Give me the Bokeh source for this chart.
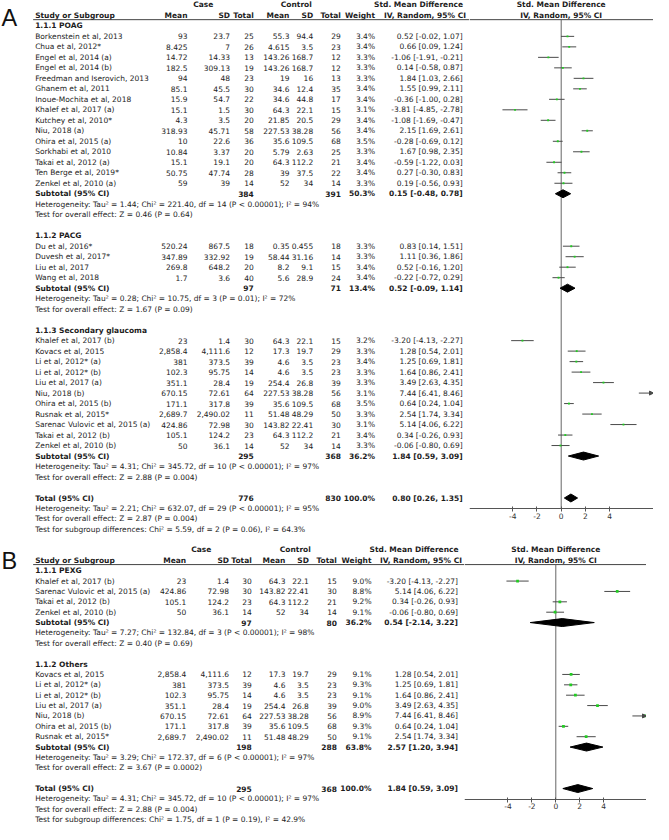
import numpy as np
from bokeh.plotting import figure
from bokeh.layouts import column, row
from bokeh.models import Range1d, FixedTicker, ColumnDataSource, Arrow, NormalHead
from bokeh.embed import file_html
from bokeh.resources import INLINE
from bokeh.core.properties import value

# ======================= DATA : panel A =======================
poag_study = ["Borkenstein et al, 2013", "Chua et al, 2012*", "Engel et al, 2014 (a)", "Engel et al, 2014 (b)",
              "Freedman and Iserovich, 2013", "Ghanem et al, 2011", "Inoue-Mochita et al, 2018",
              "Khalef et al, 2017 (a)", "Kutchey et al, 2010*", "Niu, 2018 (a)", "Ohira et al, 2015 (a)",
              "Sorkhabi et al, 2010", "Takai et al, 2012 (a)", "Ten Berge et al, 2019*", "Zenkel et al, 2010 (a)"]
poag_case_mean = [93, 8.425, 14.72, 182.5, 94, 85.1, 15.9, 15.1, 4.3, 318.93, 10, 10.84, 15.1, 50.75, 59]
poag_case_sd = [23.7, 7, 14.33, 309.13, 48, 45.5, 54.7, 1.5, 3.5, 45.71, 22.6, 3.37, 19.1, 47.74, 39]
poag_case_n = [25, 26, 13, 19, 23, 30, 22, 30, 20, 58, 36, 20, 20, 28, 14]
poag_ctrl_mean = [55.3, 4.615, 143.26, 143.26, 19, 34.6, 34.6, 64.3, 21.85, 227.53, 35.6, 5.79, 64.3, 39, 52]
poag_ctrl_sd = [94.4, 3.5, 168.7, 168.7, 16, 12.4, 44.8, 22.1, 20.5, 38.28, 109.5, 2.63, 112.2, 37.5, 34]
poag_ctrl_n = [29, 23, 12, 12, 13, 35, 17, 15, 29, 56, 68, 25, 21, 22, 14]
poag_weight = [3.4, 3.4, 3.3, 3.3, 3.3, 3.4, 3.4, 3.1, 3.4, 3.4, 3.5, 3.3, 3.4, 3.4, 3.3]
poag_smd = [0.52, 0.66, -1.06, 0.14, 1.84, 1.55, -0.36, -3.81, -1.08, 2.15, -0.28, 1.67, -0.59, 0.27, 0.19]
poag_lo = [-0.02, 0.09, -1.91, -0.58, 1.03, 0.99, -1.00, -4.85, -1.69, 1.69, -0.69, 0.98, -1.22, -0.30, -0.56]
poag_hi = [1.07, 1.24, -0.21, 0.87, 2.66, 2.11, 0.28, -2.78, -0.47, 2.61, 0.12, 2.35, 0.03, 0.83, 0.93]

pacg_study = ["Du et al, 2016*", "Duvesh et al, 2017*", "Liu et al, 2017", "Wang et al, 2018"]
pacg_case_mean = [520.24, 347.89, 269.8, 1.7]
pacg_case_sd = [867.5, 332.92, 648.2, 3.6]
pacg_case_n = [18, 19, 20, 40]
pacg_ctrl_mean = [0.35, 58.44, 8.2, 5.6]
pacg_ctrl_sd = [0.455, 31.16, 9.1, 28.9]
pacg_ctrl_n = [18, 14, 15, 24]
pacg_weight = [3.3, 3.3, 3.4, 3.4]
pacg_smd = [0.83, 1.11, 0.52, -0.22]
pacg_lo = [0.14, 0.36, -0.16, -0.72]
pacg_hi = [1.51, 1.86, 1.20, 0.29]

sec_study = ["Khalef et al, 2017 (b)", "Kovacs et al, 2015", "Li et al, 2012* (a)", "Li et al, 2012* (b)",
             "Liu et al, 2017 (a)", "Niu, 2018 (b)", "Ohira et al, 2015 (b)", "Rusnak et al, 2015*",
             "Sarenac Vulovic et al, 2015 (a)", "Takai et al, 2012 (b)", "Zenkel et al, 2010 (b)"]
sec_case_mean = [23, 2858.4, 381, 102.3, 351.1, 670.15, 171.1, 2689.7, 424.86, 105.1, 50]
sec_case_sd = [1.4, 4111.6, 373.5, 95.75, 28.4, 72.61, 317.8, 2490.02, 72.98, 124.2, 36.1]
sec_case_n = [30, 12, 39, 14, 19, 64, 39, 11, 30, 23, 14]
sec_ctrl_mean = [64.3, 17.3, 4.6, 4.6, 254.4, 227.53, 35.6, 51.48, 143.82, 64.3, 52]
sec_ctrl_sd = [22.1, 19.7, 3.5, 3.5, 26.8, 38.28, 109.5, 48.29, 22.41, 112.2, 34]
sec_ctrl_n = [15, 29, 23, 23, 39, 56, 68, 50, 30, 21, 14]
sec_weight = [3.2, 3.3, 3.4, 3.3, 3.3, 3.1, 3.5, 3.3, 3.1, 3.4, 3.3]
sec_smd = [-3.20, 1.28, 1.25, 1.64, 3.49, 7.44, 0.64, 2.54, 5.14, 0.34, -0.06]
sec_lo = [-4.13, 0.54, 0.69, 0.86, 2.63, 6.41, 0.24, 1.74, 4.06, -0.26, -0.80]
sec_hi = [-2.27, 2.01, 1.81, 2.41, 4.35, 8.46, 1.04, 3.34, 6.22, 0.93, 0.69]

A_group_titles = ["1.1.1 POAG", "1.1.2 PACG", "1.1.3 Secondary glaucoma"]
A_sub_case_n = [384, 97, 295]
A_sub_ctrl_n = [391, 71, 368]
A_sub_weight = [50.3, 13.4, 36.2]
A_sub_smd = [0.15, 0.52, 1.84]
A_sub_lo = [-0.48, -0.09, 0.59]
A_sub_hi = [0.78, 1.14, 3.09]
A_sub_het = ["Heterogeneity: Tau\u00b2 = 1.44; Chi\u00b2 = 221.40, df = 14 (P < 0.00001); I\u00b2 = 94%",
             "Heterogeneity: Tau\u00b2 = 0.28; Chi\u00b2 = 10.75, df = 3 (P = 0.01); I\u00b2 = 72%",
             "Heterogeneity: Tau\u00b2 = 4.31; Chi\u00b2 = 345.72, df = 10 (P < 0.00001); I\u00b2 = 97%"]
A_sub_test = ["Test for overall effect: Z = 0.46 (P = 0.64)",
              "Test for overall effect: Z = 1.67 (P = 0.09)",
              "Test for overall effect: Z = 2.88 (P = 0.004)"]
A_total = [776, 830, 100.0, 0.80, 0.26, 1.35]
A_total_lines = ["Heterogeneity: Tau\u00b2 = 2.21; Chi\u00b2 = 632.07, df = 29 (P < 0.00001); I\u00b2 = 95%",
                 "Test for overall effect: Z = 2.87 (P = 0.004)",
                 "Test for subgroup differences: Chi\u00b2 = 5.59, df = 2 (P = 0.06), I\u00b2 = 64.3%"]

# ======================= DATA : panel B =======================
pexg_study = ["Khalef et al, 2017 (b)", "Sarenac Vulovic et al, 2015 (a)", "Takai et al, 2012 (b)",
              "Zenkel et al, 2010 (b)"]
pexg_case_mean = [23, 424.86, 105.1, 50]
pexg_case_sd = [1.4, 72.98, 124.2, 36.1]
pexg_case_n = [30, 30, 23, 14]
pexg_ctrl_mean = [64.3, 143.82, 64.3, 52]
pexg_ctrl_sd = [22.1, 22.41, 112.2, 34]
pexg_ctrl_n = [15, 30, 21, 14]
pexg_weight = [9.0, 8.8, 9.2, 9.1]
pexg_smd = [-3.20, 5.14, 0.34, -0.06]
pexg_lo = [-4.13, 4.06, -0.26, -0.80]
pexg_hi = [-2.27, 6.22, 0.93, 0.69]

oth_study = ["Kovacs et al, 2015", "Li et al, 2012* (a)", "Li et al, 2012* (b)", "Liu et al, 2017 (a)",
             "Niu, 2018 (b)", "Ohira et al, 2015 (b)", "Rusnak et al, 2015*"]
oth_case_mean = [2858.4, 381, 102.3, 351.1, 670.15, 171.1, 2689.7]
oth_case_sd = [4111.6, 373.5, 95.75, 28.4, 72.61, 317.8, 2490.02]
oth_case_n = [12, 39, 14, 19, 64, 39, 11]
oth_ctrl_mean = [17.3, 4.6, 4.6, 254.4, 227.53, 35.6, 51.48]
oth_ctrl_sd = [19.7, 3.5, 3.5, 26.8, 38.28, 109.5, 48.29]
oth_ctrl_n = [29, 23, 23, 39, 56, 68, 50]
oth_weight = [9.1, 9.3, 9.1, 9.0, 8.9, 9.3, 9.1]
oth_smd = [1.28, 1.25, 1.64, 3.49, 7.44, 0.64, 2.54]
oth_lo = [0.54, 0.69, 0.86, 2.63, 6.41, 0.24, 1.74]
oth_hi = [2.01, 1.81, 2.41, 4.35, 8.46, 1.04, 3.34]

B_group_titles = ["1.1.1 PEXG", "1.1.2 Others"]
B_sub_case_n = [97, 198]
B_sub_ctrl_n = [80, 288]
B_sub_weight = [36.2, 63.8]
B_sub_smd = [0.54, 2.57]
B_sub_lo = [-2.14, 1.20]
B_sub_hi = [3.22, 3.94]
B_sub_het = ["Heterogeneity: Tau\u00b2 = 7.27; Chi\u00b2 = 132.84, df = 3 (P < 0.00001); I\u00b2 = 98%",
             "Heterogeneity: Tau\u00b2 = 3.29; Chi\u00b2 = 172.37, df = 6 (P < 0.00001); I\u00b2 = 97%"]
B_sub_test = ["Test for overall effect: Z = 0.40 (P = 0.69)",
              "Test for overall effect: Z = 3.67 (P = 0.0002)"]
B_total = [295, 368, 100.0, 1.84, 0.59, 3.09]
B_total_lines = ["Heterogeneity: Tau\u00b2 = 4.31; Chi\u00b2 = 345.72, df = 10 (P < 0.00001); I\u00b2 = 97%",
                 "Test for overall effect: Z = 2.88 (P = 0.004)",
                 "Test for subgroup differences: Chi\u00b2 = 1.75, df = 1 (P = 0.19), I\u00b2 = 42.9%"]

tick_values = [-4, -2, 0, 2, 4]

# ======================= STYLE / LAYOUT =======================
FONT_NAME = "DejaVu Sans"
FONT = value(FONT_NAME)
FS = "7.5px"
TXT = "#1c1c1c"
CI_COLOR = "#4a4a4a"
SQ_COLOR = "#22cc22"


def fmt(v):
    return f"{v:,}"


def ci_text(e, l, h):
    return f"{e:.2f} [{l:.2f}, {h:.2f}]"


def make_groups(titles, arrays):
    groups = []
    for t, a in zip(titles, arrays):
        groups.append(dict(title=t, study=a[0], cm=a[1], cs=a[2], cn=a[3], km=a[4], ks=a[5], kn=a[6],
                           w=a[7], smd=a[8], lo=a[9], hi=a[10]))
    return groups


def add_texts(p, items):
    for align in ("left", "right", "center"):
        for bold in (False, True):
            sel = [it for it in items if it[3] == align and it[4] == bold]
            if not sel:
                continue
            src = ColumnDataSource(dict(x=[s[0] for s in sel], y=[s[1] for s in sel], t=[s[2] for s in sel]))
            p.text(x="x", y="y", text="t", source=src, text_align=align, text_baseline="middle",
                   text_font=FONT, text_font_size=FS, text_font_style="bold" if bold else "normal",
                   text_color=TXT)


def build_panel(letter, groups, subs, total, total_lines, y0, row_h, letter_dy, C, split, frange, wt, wf,
                yr_pair, height):
    yr = Range1d(yr_pair[1], yr_pair[0])
    t = figure(width=wt, height=height, x_range=Range1d(0, split), y_range=yr, output_backend="svg",
               toolbar_location=None, x_axis_location=None, y_axis_location=None, min_border=0)
    f = figure(width=wf, height=height, x_range=Range1d(frange[0], frange[1]), y_range=yr,
               output_backend="svg", toolbar_location=None, y_axis_location=None, min_border=0)
    for p in (t, f):
        p.grid.visible = False
        p.outline_line_color = None
        p.background_fill_color = "white"
        p.border_fill_color = "white"

    Y = lambda r: y0 + r * row_h
    items = []
    fitems = []
    items += [(C["case"], Y(-1), "Case", "center", True), (C["ctrl"], Y(-1), "Control", "center", True),
              (C["h1"], Y(-1), "Std. Mean Difference", "center", True)]
    items += [(C["name"], Y(0), "Study or Subgroup", "left", True), (C["m1"], Y(0), "Mean", "right", True),
              (C["s1"], Y(0), "SD", "right", True), (C["n1"], Y(0), "Total", "right", True),
              (C["m2"], Y(0), "Mean", "right", True), (C["s2"], Y(0), "SD", "right", True),
              (C["n2"], Y(0), "Total", "right", True), (C["w"], Y(0), "Weight", "right", True),
              (C["h2"], Y(0), "IV, Random, 95% CI", "center", True)]
    fitems += [(0, Y(-1), "Std. Mean Difference", "center", True), (0, Y(0), "IV, Random, 95% CI", "center", True)]
    line_y = Y(0) + 4.3

    seg = dict(x0=[], x1=[], y=[])
    sq = dict(x=[], y=[], s=[])
    dia = dict(xs=[], ys=[])
    arr = dict(x0=[], x1=[], y=[])

    r = 1
    for gi, g in enumerate(groups):
        items.append((C["name"], Y(r), g["title"], "left", True))
        r += 1
        for i in range(len(g["study"])):
            y = Y(r)
            items += [(C["name"], y, g["study"][i], "left", False),
                      (C["m1"], y, fmt(g["cm"][i]), "right", False), (C["s1"], y, fmt(g["cs"][i]), "right", False),
                      (C["n1"], y, fmt(g["cn"][i]), "right", False), (C["m2"], y, fmt(g["km"][i]), "right", False),
                      (C["s2"], y, fmt(g["ks"][i]), "right", False), (C["n2"], y, fmt(g["kn"][i]), "right", False),
                      (C["w"], y, f"{g['w'][i]:.1f}%", "right", False),
                      (C["ci"], y, ci_text(g["smd"][i], g["lo"][i], g["hi"][i]), "right", False)]
            if g["hi"][i] > frange[1]:
                arr["x0"].append(g["lo"][i]); arr["x1"].append(frange[1]); arr["y"].append(y)
            else:
                seg["x0"].append(g["lo"][i]); seg["x1"].append(g["hi"][i]); seg["y"].append(y)
            sq["x"].append(g["smd"][i]); sq["y"].append(y); sq["s"].append(0.5 + 0.75 * np.sqrt(g["w"][i]))
            r += 1
        s = subs[gi]
        y = Y(r)
        items += [(C["name"], y, "Subtotal (95% CI)", "left", True), (C["n1"], y, fmt(s[0]), "right", True),
                  (C["n2"], y, fmt(s[1]), "right", True), (C["w"], y, f"{s[2]:.1f}%", "right", True),
                  (C["ci"], y, ci_text(s[3], s[4], s[5]), "right", True)]
        dia["xs"].append([s[4], s[3], s[5], s[3]]); dia["ys"].append([y, y - 4, y, y + 4])
        r += 1
        items.append((C["name"], Y(r), s[6], "left", False)); r += 1
        items.append((C["name"], Y(r), s[7], "left", False)); r += 1
        r += 1
    y = Y(r)
    items += [(C["name"], y, "Total (95% CI)", "left", True), (C["n1"], y, fmt(total[0]), "right", True),
              (C["n2"], y, fmt(total[1]), "right", True), (C["w"], y, f"{total[2]:.1f}%", "right", True),
              (C["ci"], y, ci_text(total[3], total[4], total[5]), "right", True)]
    dia["xs"].append([total[4], total[3], total[5], total[3]]); dia["ys"].append([y, y - 4, y, y + 4])
    axis_y = y + 11
    r += 1
    for ln in total_lines:
        items.append((C["name"], Y(r), ln, "left", False)); r += 1

    t.text(x=[C["letter_x"]], y=[y0 + letter_dy], text=[letter], text_font=value("Liberation Sans"),
           text_font_size="23.5px", text_baseline="alphabetic", text_align="left", text_color="#111111")
    t.segment(x0=[C["line_x0"]], x1=[split], y0=[line_y], y1=[line_y], line_color="#444444", line_width=1)
    f.segment(x0=[frange[0]], x1=[frange[1]], y0=[line_y], y1=[line_y], line_color="#444444", line_width=1)
    add_texts(t, items)
    add_texts(f, fitems)

    f.segment(x0=[0], x1=[0], y0=[line_y], y1=[axis_y], line_color="#666666", line_width=1)
    f.segment(x0="x0", x1="x1", y0="y", y1="y", source=ColumnDataSource(seg), line_color=CI_COLOR, line_width=1)
    if arr["x0"]:
        f.add_layout(Arrow(end=NormalHead(size=4, fill_color=CI_COLOR, line_color=CI_COLOR),
                           source=ColumnDataSource(arr), x_start="x0", x_end="x1", y_start="y", y_end="y",
                           line_color=CI_COLOR, line_width=1))
    f.scatter(x="x", y="y", size="s", source=ColumnDataSource(sq), marker="square", fill_color=SQ_COLOR,
              line_color=None)
    f.patches(xs="xs", ys="ys", source=ColumnDataSource(dia), fill_color="black", line_color="black")

    ax = f.xaxis[0]
    ax.fixed_location = axis_y
    ax.ticker = FixedTicker(ticks=tick_values)
    ax.major_label_overrides = {v: str(v) for v in tick_values}
    ax.axis_line_color = "#555555"
    ax.major_tick_line_color = "#555555"
    ax.minor_tick_line_color = None
    ax.major_tick_in = 2
    ax.major_tick_out = 3
    ax.major_label_standoff = 1
    ax.major_label_text_font = FONT_NAME
    ax.major_label_text_font_size = FS
    ax.major_label_text_color = "#333333"
    return row(t, f, spacing=0)


A_groups = make_groups(A_group_titles, [
    (poag_study, poag_case_mean, poag_case_sd, poag_case_n, poag_ctrl_mean, poag_ctrl_sd, poag_ctrl_n,
     poag_weight, poag_smd, poag_lo, poag_hi),
    (pacg_study, pacg_case_mean, pacg_case_sd, pacg_case_n, pacg_ctrl_mean, pacg_ctrl_sd, pacg_ctrl_n,
     pacg_weight, pacg_smd, pacg_lo, pacg_hi),
    (sec_study, sec_case_mean, sec_case_sd, sec_case_n, sec_ctrl_mean, sec_ctrl_sd, sec_ctrl_n,
     sec_weight, sec_smd, sec_lo, sec_hi)])
A_subs = list(zip(A_sub_case_n, A_sub_ctrl_n, A_sub_weight, A_sub_smd, A_sub_lo, A_sub_hi, A_sub_het, A_sub_test))

B_groups = make_groups(B_group_titles, [
    (pexg_study, pexg_case_mean, pexg_case_sd, pexg_case_n, pexg_ctrl_mean, pexg_ctrl_sd, pexg_ctrl_n,
     pexg_weight, pexg_smd, pexg_lo, pexg_hi),
    (oth_study, oth_case_mean, oth_case_sd, oth_case_n, oth_ctrl_mean, oth_ctrl_sd, oth_ctrl_n,
     oth_weight, oth_smd, oth_lo, oth_hi)])
B_subs = list(zip(B_sub_case_n, B_sub_ctrl_n, B_sub_weight, B_sub_smd, B_sub_lo, B_sub_hi, B_sub_het, B_sub_test))

CA = dict(name=35, m1=189, s1=232, n1=256, m2=292, s2=316, n2=344, w=378.5, ci=467, case=205, ctrl=299,
          h1=422.5, h2=429, line_x0=33, letter_x=1)
CB = dict(name=35, m1=187.7, s1=231, n1=254, m2=288, s2=311.7, n2=340, w=375, ci=462.3, case=203, ctrl=298,
          h1=418, h2=425, line_x0=33, letter_x=1)

panelA = build_panel("A", A_groups, A_subs, A_total, A_total_lines, 17, 10.57, 3, CA, 474, (-7.57, 7.62),
                     469, 184, (2, 541.0), 535)
panelB = build_panel("B", B_groups, B_subs, B_total, B_total_lines, 566, 10.45, 1, CB, 469, (-7.64, 7.59),
                     464, 182, (541.0, 832.1), 289)

layout = column(panelA, panelB, spacing=0)
open("out.html", "w").write(file_html(layout, INLINE))
